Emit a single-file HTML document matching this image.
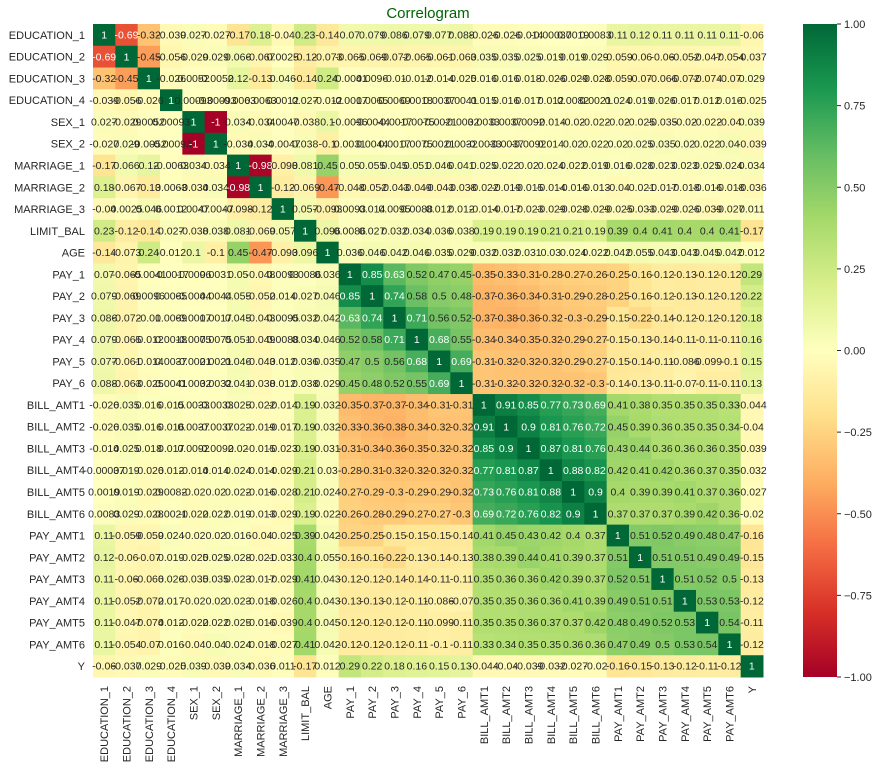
<!DOCTYPE html>
<html><head><meta charset="utf-8"><style>
body{margin:0;background:#fff;}
svg{display:block;font-family:"Liberation Sans",Arial,sans-serif;}
</style></head><body>
<svg id="chart" width="881" height="769" viewBox="0 0 881 769" xmlns="http://www.w3.org/2000/svg">
<text x="428" y="18" text-anchor="middle" font-size="15" fill="#006400">Correlogram</text>
<g id="cells"></g>
<g id="ylabels"></g>
<g id="xlabels"></g>
<defs><linearGradient id="cbg" x1="0" y1="1" x2="0" y2="0"></linearGradient></defs>
<rect x="803" y="24" width="34" height="653" fill="url(#cbg)"/>
<g id="cbticks"></g>
</svg>
<script>
const labels = ["EDUCATION_1","EDUCATION_2","EDUCATION_3","EDUCATION_4","SEX_1","SEX_2","MARRIAGE_1","MARRIAGE_2","MARRIAGE_3","LIMIT_BAL","AGE","PAY_1","PAY_2","PAY_3","PAY_4","PAY_5","PAY_6","BILL_AMT1","BILL_AMT2","BILL_AMT3","BILL_AMT4","BILL_AMT5","BILL_AMT6","PAY_AMT1","PAY_AMT2","PAY_AMT3","PAY_AMT4","PAY_AMT5","PAY_AMT6","Y"];
const lowerTriangle = [
[],
[-0.69],
[-0.32,-0.45],
[-0.039,-0.056,-0.026],
[0.027,-0.029,0.0052,0.00093],
[-0.027,0.029,-0.0052,-0.00093,-1],
[-0.17,0.066,0.12,-0.0063,0.034,-0.034],
[0.18,-0.067,-0.13,0.0063,-0.034,0.034,-0.98],
[-0.04,0.0025,0.046,0.0012,0.0047,-0.0047,-0.098,-0.12],
[0.23,-0.12,-0.14,0.027,-0.038,0.038,0.081,-0.069,0.057],
[-0.14,-0.073,0.24,-0.012,0.1,-0.1,0.45,-0.47,-0.093,0.096],
[0.07,-0.065,-0.0041,-0.0017,-0.0096,0.0031,0.05,-0.048,0.0093,0.0086,0.036],
[0.079,-0.069,0.0096,0.0065,-0.0044,0.0044,0.055,-0.052,0.014,0.027,0.046,0.85],
[0.086,-0.072,-0.01,0.0069,-0.0017,0.0017,0.045,-0.043,0.0095,0.032,0.042,0.63,0.74],
[0.079,-0.065,-0.012,0.0018,-0.0075,0.0075,0.051,-0.049,0.0088,0.034,0.046,0.52,0.58,0.71],
[0.077,-0.061,-0.014,0.0037,-0.0021,0.0021,0.046,-0.043,0.012,0.036,0.035,0.47,0.5,0.56,0.68],
[0.088,-0.063,-0.025,0.0041,-0.0032,0.0032,0.041,-0.038,0.012,0.038,0.029,0.45,0.48,0.52,0.55,0.69],
[-0.026,0.035,0.016,0.015,0.0033,-0.0033,0.025,-0.022,-0.014,0.19,0.032,-0.35,-0.37,-0.37,-0.34,-0.31,-0.31],
[-0.026,0.035,0.016,0.016,0.0037,-0.0037,0.022,-0.019,-0.017,0.19,0.032,-0.33,-0.36,-0.38,-0.34,-0.32,-0.32,0.91],
[-0.014,0.025,0.018,0.017,0.0092,-0.0092,0.02,-0.015,-0.023,0.19,0.031,-0.31,-0.34,-0.36,-0.35,-0.32,-0.32,0.85,0.9],
[-0.00037,0.019,-0.026,0.012,-0.014,0.014,0.024,-0.014,-0.029,0.21,0.03,-0.28,-0.31,-0.32,-0.32,-0.32,-0.32,0.77,0.81,0.87],
[0.0019,0.019,-0.029,0.0082,-0.02,0.02,0.022,-0.016,-0.028,0.21,0.024,-0.27,-0.29,-0.3,-0.29,-0.29,-0.32,0.73,0.76,0.81,0.88],
[0.0083,0.029,-0.028,0.0021,-0.022,0.022,0.019,-0.013,-0.029,0.19,0.022,-0.26,-0.28,-0.29,-0.27,-0.27,-0.3,0.69,0.72,0.76,0.82,0.9],
[0.11,-0.059,-0.059,0.024,-0.02,0.02,0.016,-0.04,-0.025,0.39,0.042,-0.25,-0.25,-0.15,-0.15,-0.15,-0.14,0.41,0.45,0.43,0.42,0.4,0.37],
[0.12,-0.06,-0.07,0.019,-0.025,0.025,0.028,-0.021,-0.033,0.4,0.055,-0.16,-0.16,-0.22,-0.13,-0.14,-0.13,0.38,0.39,0.44,0.41,0.39,0.37,0.51],
[0.11,-0.06,-0.066,0.026,-0.035,0.035,0.023,-0.017,-0.029,0.41,0.043,-0.12,-0.12,-0.14,-0.14,-0.11,-0.11,0.35,0.36,0.36,0.42,0.39,0.37,0.52,0.51],
[0.11,-0.052,-0.072,0.017,-0.02,0.02,0.023,-0.018,-0.026,0.4,0.043,-0.13,-0.13,-0.12,-0.11,-0.086,-0.07,0.35,0.35,0.36,0.36,0.41,0.39,0.49,0.51,0.51],
[0.11,-0.047,-0.074,0.012,-0.022,0.022,0.025,-0.016,-0.039,0.4,0.045,-0.12,-0.12,-0.12,-0.11,-0.099,-0.11,0.35,0.35,0.36,0.37,0.37,0.42,0.48,0.49,0.52,0.53],
[0.11,-0.054,-0.07,0.016,-0.04,0.04,0.024,-0.018,-0.027,0.41,0.042,-0.12,-0.12,-0.12,-0.11,-0.1,-0.11,0.33,0.34,0.35,0.35,0.36,0.36,0.47,0.49,0.5,0.53,0.54],
[-0.06,-0.037,0.029,-0.025,0.039,-0.039,0.034,-0.036,0.011,-0.17,0.012,0.29,0.22,0.18,0.16,0.15,0.13,-0.044,-0.04,-0.039,-0.032,-0.027,-0.02,-0.16,-0.15,-0.13,-0.12,-0.11,-0.12]
];
const colorbarTicks = [1, 0.75, 0.5, 0.25, 0, -0.25, -0.5, -0.75, -1];
const colorbarTickLabels = ["1.00","0.75","0.50","0.25","0.00","\u22120.25","\u22120.50","\u22120.75","\u22121.00"];

const NS="http://www.w3.org/2000/svg";
const X0=93, X1=763, Y0=24, Y1=677;
const n=labels.length;
const cw=(X1-X0)/n, ch=(Y1-Y0)/n;
const xPos=i=>X0+i*cw, yPos=i=>Y0+i*ch;
const cbY=v=>Y0+(1-v)/2*(Y1-Y0);
const stops=["#a50026","#d73027","#f46d43","#fdae61","#fee08b","#ffffbf","#d9ef8b","#a6d96a","#66bd63","#1a9850","#006837"].map(h=>[1,3,5].map(k=>parseInt(h.substr(k,2),16)));
function cmap(v){let t=(Math.max(-1,Math.min(1,v))+1)/2*10;let i=Math.min(9,Math.floor(t));let f=t-i;const a=stops[i],b=stops[i+1];return a.map((c,k)=>Math.round(c+(b[k]-c)*f));}
function lum(c){const l=c.map(x=>{x/=255;return x<=0.03928?x/12.92:Math.pow((x+0.055)/1.055,2.4);});return 0.2126*l[0]+0.7152*l[1]+0.0722*l[2];}
function val(r,c){if(r===c)return 1;return r>c?lowerTriangle[r][c]:lowerTriangle[c][r];}
function fmt(v){if(v===1)return "1";if(v===-1)return "-1";return String(v);}
const cells=document.getElementById('cells');
for(let r=0;r<n;r++){for(let c=0;c<n;c++){
 const v=val(r,c);const col=cmap(v);
 const rect=document.createElementNS(NS,'rect');
 
 
 rect.setAttribute('x',xPos(c));rect.setAttribute('y',yPos(r));
 rect.setAttribute('width',cw+0.5);rect.setAttribute('height',ch+0.5);
 rect.setAttribute('fill','rgb('+col.join(',')+')');
 cells.appendChild(rect);
}}
for(let r=0;r<n;r++){for(let c=0;c<n;c++){
 const v=val(r,c);const col=cmap(v);
 const t=document.createElementNS(NS,'text');
 
 
 t.setAttribute('x',xPos(c)+cw/2);t.setAttribute('y',yPos(r)+ch/2+3.6);
 t.setAttribute('text-anchor','middle');t.setAttribute('font-size','10.5');
 t.setAttribute('fill',lum(col)<0.408?'#ffffff':'#262626');
 t.textContent=fmt(v);cells.appendChild(t);
}}
const yl=document.getElementById('ylabels'), xl=document.getElementById('xlabels');
labels.forEach((lab,i)=>{
 const t=document.createElementNS(NS,'text');
 
 
 t.setAttribute('x',85);t.setAttribute('y',yPos(i)+ch/2+4);
 t.setAttribute('text-anchor','end');t.setAttribute('font-size','11');t.setAttribute('fill','#262626');
 t.textContent=lab;yl.appendChild(t);
 const u=document.createElementNS(NS,'text');
 
 
 const cx=xPos(i)+cw/2+4;
 u.setAttribute('transform','translate('+cx+',686) rotate(-90)');
 u.setAttribute('text-anchor','end');u.setAttribute('font-size','11');u.setAttribute('fill','#262626');
 u.textContent=lab;xl.appendChild(u);
});
const grad=document.getElementById('cbg');
for(let k=0;k<=20;k++){const v=-1+k/10;const s=document.createElementNS(NS,'stop');s.setAttribute('offset',(k/20));s.setAttribute('stop-color','rgb('+cmap(v).join(',')+')');grad.appendChild(s);}
const cbt=document.getElementById('cbticks');
colorbarTicks.forEach((v,i)=>{
 const y=cbY(v);
 const l=document.createElementNS(NS,'line');
 
 
 l.setAttribute('x1',837);l.setAttribute('x2',841);l.setAttribute('y1',y);l.setAttribute('y2',y);l.setAttribute('stroke','#262626');
 cbt.appendChild(l);
 const t=document.createElementNS(NS,'text');
 
 
 t.setAttribute('x',844);t.setAttribute('y',y+4);t.setAttribute('font-size','11');t.setAttribute('fill','#262626');
 t.textContent=colorbarTickLabels[i];cbt.appendChild(t);
});
</script>
</body></html>
